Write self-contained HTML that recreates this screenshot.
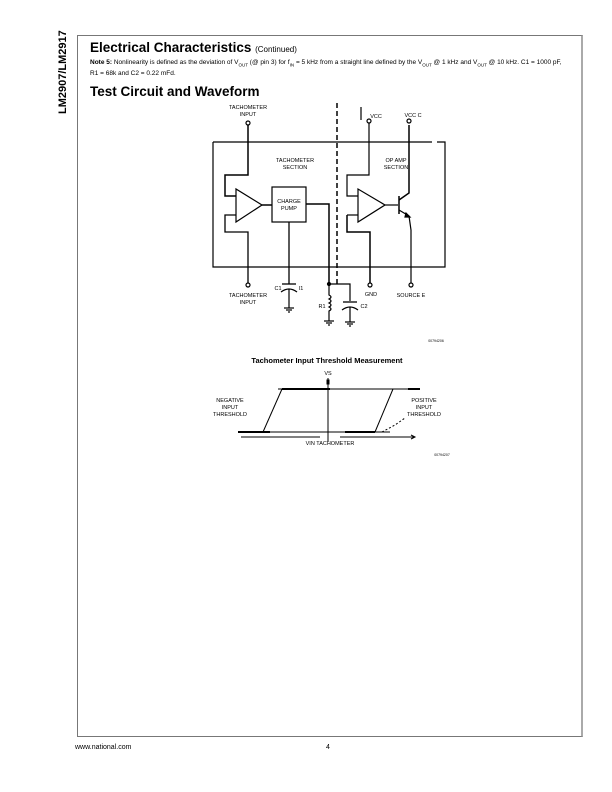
<!DOCTYPE html>
<html><head><style>
body{margin:0;background:#fff;}
.p{position:relative;width:612px;height:792px;font-family:"Liberation Sans",sans-serif;color:#000;}
.t{position:absolute;white-space:nowrap;}
</style></head><body><div class="p">
<div style="position:absolute;left:77px;top:35px;width:503px;height:700px;border:1px solid #777;border-right:2px solid #aaa;"></div>
<div class="t" style="left:57px;top:114px;transform:rotate(-90deg);transform-origin:left top;font-weight:bold;font-size:11px;">LM2907/LM2917</div>
<div class="t" style="left:90px;top:40px;font-size:13.5px;font-weight:bold;">Electrical Characteristics <span style="font-size:8px;font-weight:normal">(Continued)</span></div>
<div class="t" style="left:90px;top:58px;font-size:6.5px;line-height:9px;"><b>Note 5:</b> Nonlinearity is defined as the deviation of V<sub style="font-size:4.5px">OUT</sub> (@ pin 3) for f<sub style="font-size:4.5px">IN</sub> = 5 kHz from a straight line defined by the V<sub style="font-size:4.5px">OUT</sub> @ 1 kHz and V<sub style="font-size:4.5px">OUT</sub> @ 10 kHz. C1 = 1000 pF,<br>R1 = 68k and C2 = 0.22 mFd.</div>
<div class="t" style="left:90px;top:84px;font-size:13.5px;font-weight:bold;">Test Circuit and Waveform</div>
<div class="t" style="left:75px;top:744px;font-size:7px;">www.national.com</div>
<div class="t" style="left:326px;top:744px;font-size:7px;">4</div>
<svg width="612" height="792" style="position:absolute;left:0;top:0" font-family="Liberation Sans" font-size="5">
<g stroke="#000" fill="none" stroke-width="1.2">
<polyline points="213,142 432,142"/><polyline points="437,142 445,142 445,267 213,267 213,142"/>
<line x1="337" y1="103" x2="337" y2="287" stroke-dasharray="5,3" stroke-width="1.5"/>
<circle cx="248" cy="123" r="2"/><polyline points="248,125 248,175 225,175 225,196 236,196" stroke-width="1.5"/>
<polyline points="236,215 225,215 225,232 248,232 248,283" stroke-width="1.3"/><circle cx="248" cy="285" r="2"/>
<polygon points="236,189 236,222 262,205"/>
<line x1="262" y1="205" x2="272" y2="205" stroke-width="1.5"/>
<rect x="272" y="187" width="34" height="35"/>
<polyline points="306,204 329,204 329,284" stroke-width="1.5"/>
<line x1="289" y1="222" x2="289" y2="284" stroke-width="1.3"/>
<line x1="282" y1="284" x2="296" y2="284" stroke-width="1.3"/><path d="M281,292 Q289,286 297,292"/>
<line x1="289" y1="289" x2="289" y2="308"/><line x1="284" y1="308" x2="294" y2="308"/><line x1="286" y1="310" x2="292" y2="310"/><line x1="288" y1="312" x2="290" y2="312"/>
<circle cx="329" cy="284" r="1.5" fill="#000"/>
<polyline points="329,284 350,284 350,301"/>
<line x1="343" y1="302" x2="357" y2="302" stroke-width="1.3"/><path d="M342,310 Q350,304 358,310"/>
<line x1="350" y1="307" x2="350" y2="322"/><line x1="345" y1="322" x2="355" y2="322"/><line x1="347" y1="324" x2="353" y2="324"/><line x1="349" y1="326" x2="351" y2="326"/>
<path d="M329,284 L329,295 Q333,297 329,299 Q333,301 329,303 Q333,305 329,307 Q333,309 329,311 L329,321"/>
<line x1="324" y1="321" x2="334" y2="321"/><line x1="326" y1="323" x2="332" y2="323"/><line x1="328" y1="325" x2="330" y2="325"/>
<circle cx="369" cy="121" r="2"/><polyline points="369,123 369,175 347,175 347,196 358,196"/>
<line x1="361" y1="107" x2="361" y2="120"/>
<polygon points="358,189 358,222 385,205"/>
<polyline points="347,215 358,215"/><polyline points="347,215 347,232 370,232 370,283" stroke-width="1.5"/><circle cx="370" cy="285" r="2"/>
<line x1="385" y1="205" x2="398" y2="205"/><line x1="399" y1="196" x2="399" y2="214" stroke-width="1.5"/>
<polyline points="399,200 409,193 409,125" stroke-width="1.5"/><circle cx="409" cy="121" r="2"/>
<polyline points="399,210 409,216 411,230 411,283"/><circle cx="411" cy="285" r="2"/>
<polygon points="406,213 410,217 405,217" fill="#000"/>
</g>
<g font-size="5.5" text-anchor="middle">
<text x="248" y="109">TACHOMETER</text><text x="248" y="116">INPUT</text>
<text x="295" y="162">TACHOMETER</text><text x="295" y="169">SECTION</text>
<text x="396" y="162">OP AMP</text><text x="396" y="169">SECTION</text>
<text x="289" y="203">CHARGE</text><text x="289" y="210">PUMP</text>
<text x="248" y="297">TACHOMETER</text><text x="248" y="304">INPUT</text>
<text x="278" y="290">C1</text><text x="301" y="290">I1</text>
<text x="322" y="308">R1</text><text x="364" y="308">C2</text>
<text x="371" y="296">GND</text><text x="411" y="297">SOURCE E</text>
<text x="376" y="118">VCC</text><text x="413" y="117">VCC C</text>
<text x="436" y="342" font-size="3.5">00794206</text>
</g>
<text x="327" y="363" font-size="7.5" font-weight="bold" text-anchor="middle">Tachometer Input Threshold Measurement</text>
<g stroke="#000" fill="none">
<line x1="278" y1="389" x2="420" y2="389"/><line x1="282" y1="389" x2="330" y2="389" stroke-width="2"/><line x1="408" y1="389" x2="420" y2="389" stroke-width="2"/>
<line x1="238" y1="432" x2="390" y2="432"/><line x1="238" y1="432" x2="270" y2="432" stroke-width="2"/><line x1="345" y1="432" x2="375" y2="432" stroke-width="2"/>
<line x1="263" y1="432" x2="282" y2="389"/><line x1="375" y1="432" x2="393" y2="389"/>
<line x1="328" y1="378" x2="328" y2="442"/><rect x="327" y="380" width="2" height="4" fill="#000"/>
<line x1="241" y1="437" x2="320" y2="437"/><line x1="340" y1="437" x2="415" y2="437"/>
<polyline points="411,435 415,437 411,439"/>
<polyline points="382,432 395,425 405,418" stroke-dasharray="2,2"/>
</g>
<g font-size="5.5" text-anchor="middle">
<text x="328" y="375">VS</text>
<text x="230" y="402">NEGATIVE</text><text x="230" y="409">INPUT</text><text x="230" y="416">THRESHOLD</text>
<text x="424" y="402">POSITIVE</text><text x="424" y="409">INPUT</text><text x="424" y="416">THRESHOLD</text>
<text x="330" y="445">VIN TACHOMETER</text>
<text x="442" y="456" font-size="3.5">00794207</text>
</g>
</svg>
</div></body></html>
